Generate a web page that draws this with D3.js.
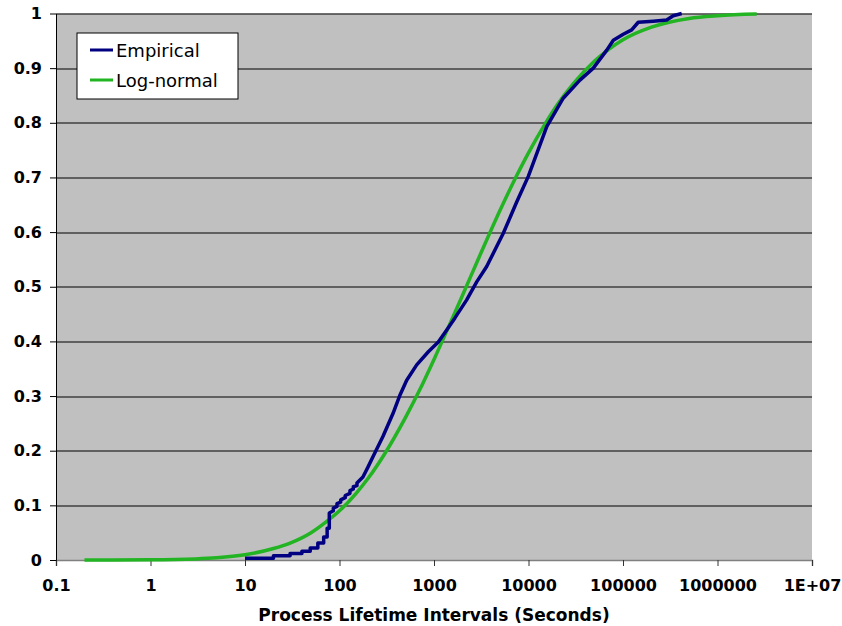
<!DOCTYPE html>
<html>
<head>
<meta charset="utf-8">
<script src="https://cdn.jsdelivr.net/npm/d3@7"></script>
<style>
  body { margin: 0; background: #fff; }
  svg { display: block; }
</style>
</head>
<body>
<div id="chart"></div>
<script>
// x axis ticks (log scale, seconds)
const xTicks = [0.1, 1, 10, 100, 1000, 10000, 100000, 1000000, 10000000];
const xTickLabels = ['0.1', '1', '10', '100', '1000', '10000', '100000', '1000000', '1E+07'];
// y axis ticks (cumulative fraction)
const yTicks = [0, 0.1, 0.2, 0.3, 0.4, 0.5, 0.6, 0.7, 0.8, 0.9, 1];
const yTickLabels = ['0', '0.1', '0.2', '0.3', '0.4', '0.5', '0.6', '0.7', '0.8', '0.9', '1'];

const seriesNames = ['Empirical', 'Log-normal'];

// empirical CDF (repeated times give the small steps)
const empiricalTime = [10, 20, 20, 30, 30, 40, 40, 49, 49, 59, 59, 68, 68, 74, 74, 78, 78, 86, 86, 94, 94,
  103, 103, 115, 115, 129, 129, 140, 140, 153, 153, 177, 200, 226, 288, 368, 437, 514, 656, 871, 1111,
  1363, 1667, 2218, 2831, 3610, 5410, 7500, 9950, 15600, 23300, 35000, 48500, 67300, 79000, 100700,
  123600, 145000, 209000, 290000, 340000, 418000];
const empiricalCdf = [0.003, 0.003, 0.008, 0.008, 0.012, 0.012, 0.016, 0.016, 0.022, 0.022, 0.031, 0.031,
  0.042, 0.042, 0.058, 0.058, 0.086, 0.090, 0.095, 0.098, 0.103, 0.106, 0.110, 0.114, 0.118, 0.122,
  0.127, 0.130, 0.134, 0.136, 0.141, 0.152, 0.170, 0.189, 0.226, 0.268, 0.302, 0.329, 0.357, 0.381,
  0.399, 0.421, 0.443, 0.476, 0.509, 0.537, 0.598, 0.655, 0.702, 0.793, 0.845, 0.878, 0.900, 0.933,
  0.951, 0.962, 0.970, 0.984, 0.986, 0.988, 0.996, 1.0];

// fitted log-normal CDF
const lognormalTime = [0.2, 1, 3, 5, 10, 20, 30, 50, 70, 100, 150, 200, 300, 500, 700, 1000, 1500, 2000,
  3000, 5000, 7000, 10000, 15000, 20000, 30000, 50000, 70000, 100000, 200000, 500000, 1000000, 2600000];
const lognormalCdf = [0.0, 0.0004, 0.002, 0.004, 0.0096, 0.021, 0.031, 0.050, 0.068, 0.090, 0.122, 0.149,
  0.194, 0.261, 0.310, 0.367, 0.435, 0.484, 0.554, 0.640, 0.693, 0.745, 0.798, 0.832, 0.872, 0.913,
  0.934, 0.952, 0.975, 0.991, 0.996, 0.999];

const width = 842;
const height = 626;
const margin = { top: 13.5, right: 30, bottom: 66, left: 56 };
const plotW = width - margin.left - margin.right;
const plotH = height - margin.top - margin.bottom;

const tickFont = 'bold 16px "DejaVu Sans", Verdana, sans-serif';

const svg = d3.select('#chart')
  .append('svg')
  .attr('width', width)
  .attr('height', height);

const g = svg.append('g')
  .attr('transform', `translate(${margin.left},${margin.top})`);

const x = d3.scaleLog()
  .domain([0.1, 10000000])
  .range([0, plotW]);

const y = d3.scaleLinear()
  .domain([0, 1])
  .range([plotH, 0]);

// grey plot area
g.append('rect')
  .attr('width', plotW)
  .attr('height', plotH)
  .attr('fill', '#c0c0c0');

// horizontal gridlines
g.selectAll('.grid')
  .data(yTicks.filter(d => d > 0))
  .enter()
  .append('line')
  .attr('x1', 0)
  .attr('x2', plotW)
  .attr('y1', d => Math.round(y(d)) + 0.5)
  .attr('y2', d => Math.round(y(d)) + 0.5)
  .attr('stroke', '#000')
  .attr('stroke-width', 1);

// x axis
const xAxis = g.append('g')
  .attr('transform', `translate(0,${plotH})`)
  .call(d3.axisBottom(x)
    .tickValues(xTicks)
    .tickFormat((d, i) => xTickLabels[i])
    .tickSize(6)
    .tickPadding(14));
xAxis.select('.domain').attr('stroke', '#808080').attr('stroke-width', 1.5);
xAxis.selectAll('.tick line').attr('stroke', '#333');
xAxis.selectAll('.tick text')
  .style('font', tickFont)
  .attr('fill', '#000');

// y axis
const yAxis = g.append('g')
  .call(d3.axisLeft(y)
    .tickValues(yTicks)
    .tickFormat((d, i) => yTickLabels[i])
    .tickSize(6)
    .tickPadding(8)
    .tickSizeOuter(0));
yAxis.select('.domain').attr('stroke', '#000');
yAxis.selectAll('.tick line').attr('stroke', '#000');
yAxis.selectAll('.tick text')
  .style('font', tickFont)
  .attr('fill', '#000');

// series
const line = d3.line()
  .x(d => x(d[0]))
  .y(d => y(d[1]));

const empirical = empiricalTime.map((t, i) => [t, empiricalCdf[i]]);
const lognormal = lognormalTime.map((t, i) => [t, lognormalCdf[i]]);

g.append('path')
  .datum(lognormal)
  .attr('fill', 'none')
  .attr('stroke', '#22b422')
  .attr('stroke-width', 3.5)
  .attr('d', line.curve(d3.curveMonotoneX));

g.append('path')
  .datum(empirical)
  .attr('fill', 'none')
  .attr('stroke', '#000080')
  .attr('stroke-width', 3.5)
  .attr('stroke-linejoin', 'round')
  .attr('d', line.curve(d3.curveLinear));

// axis title
svg.append('text')
  .attr('x', 434)
  .attr('y', 621)
  .attr('text-anchor', 'middle')
  .style('font', 'bold 17px "DejaVu Sans", Verdana, sans-serif')
  .text('Process Lifetime Intervals (Seconds)');

// legend
const legend = svg.append('g').attr('transform', 'translate(77,33)');
legend.append('rect')
  .attr('width', 161)
  .attr('height', 66)
  .attr('fill', '#fff')
  .attr('stroke', '#000')
  .attr('stroke-width', 1);

const legendColors = ['#000080', '#22b422'];
const item = legend.selectAll('.item')
  .data(seriesNames)
  .enter()
  .append('g')
  .attr('transform', (d, i) => `translate(0,${17 + i * 30})`);
item.append('line')
  .attr('x1', 13)
  .attr('x2', 36)
  .attr('stroke', (d, i) => legendColors[i])
  .attr('stroke-width', 3);
item.append('text')
  .attr('x', 39)
  .attr('y', 6.5)
  .style('font', '18px "DejaVu Sans", Verdana, sans-serif')
  .text(d => d);
</script>
</body>
</html>
